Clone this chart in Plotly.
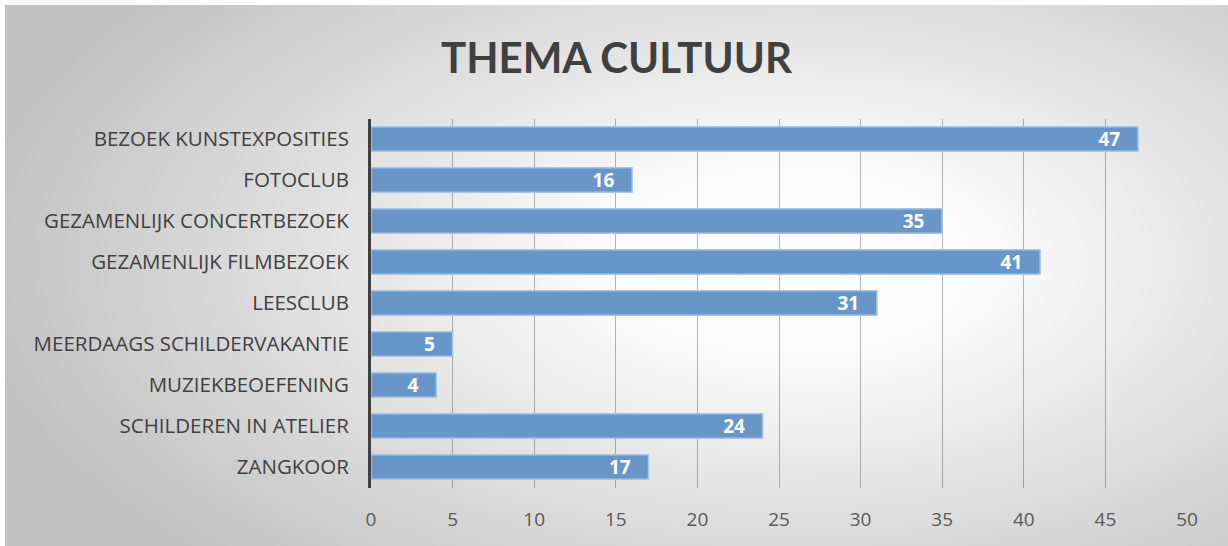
import numpy as np
import plotly.graph_objects as go

categories = [
    "BEZOEK KUNSTEXPOSITIES",
    "FOTOCLUB",
    "GEZAMENLIJK CONCERTBEZOEK",
    "GEZAMENLIJK FILMBEZOEK",
    "LEESCLUB",
    "MEERDAAGS SCHILDERVAKANTIE",
    "MUZIEKBEOEFENING",
    "SCHILDEREN IN ATELIER",
    "ZANGKOOR",
]
values = [47, 16, 35, 41, 31, 5, 4, 24, 17]

W, H = 1228, 546

# radial gradient background (white centre, grey edges) drawn as a heatmap
gx = np.linspace(10, W, 124)
gy = np.linspace(10, H, 55)
GX, GY = np.meshgrid(gx, gy)
dist = np.sqrt(((GX - 790) / 820) ** 2 + ((GY - 260) / 420) ** 2)
dist = np.clip(dist, 0, 1)

fig = go.Figure()
fig.add_trace(go.Heatmap(
    x=gx, y=gy, z=dist, zmin=0, zmax=1, zsmooth="best",
    colorscale=[[0, "#ffffff"], [0.25, "#fafafa"], [1, "#c2c2c2"]],
    showscale=False, hoverinfo="skip",
    xaxis="x", yaxis="y",
))
fig.add_trace(go.Bar(
    x=values, y=categories, orientation="h",
    xaxis="x2", yaxis="y2",
    width=0.6,
    marker=dict(color="#6896c9", line=dict(color="#a9c5e6", width=1.5)),
    texttemplate="%{x}&nbsp;&nbsp;&nbsp;", textposition="inside",
    insidetextanchor="end", textangle=0, constraintext="none",
    textfont=dict(color="white", size=19, family="Open Sans", weight="bold"),
    cliponaxis=False,
))

fig.update_layout(
    width=W, height=H,
    margin=dict(l=0, r=0, t=0, b=0, autoexpand=False),
    paper_bgcolor="white", plot_bgcolor="rgba(0,0,0,0)",
    showlegend=False,
    font=dict(family="Open Sans", color="#404040"),
    title=dict(text="<b>THEMA CULTUUR</b>", x=0.502, xanchor="center",
               y=1 - 58 / H, yanchor="middle",
               font=dict(size=42, color="#404040", family="Lato")),
    xaxis=dict(domain=[0, 1], range=[0, W], visible=False, fixedrange=True),
    yaxis=dict(domain=[0, 1], range=[H, 0], visible=False, fixedrange=True),
    xaxis2=dict(
        domain=[371 / W, 1187 / W], anchor="y2", range=[0, 50],
        tickvals=list(range(0, 51, 5)),
        showgrid=True, gridcolor="rgba(0,0,0,0.28)", gridwidth=1,
        zeroline=False, showline=False, ticks="",
        tickfont=dict(size=19, color="#595959"),
        ticklabelstandoff=18, automargin=False,
    ),
    yaxis2=dict(
        domain=[1 - 487.5 / H, 1 - 118.5 / H], anchor="x2",
        autorange="reversed", categoryorder="array", categoryarray=categories,
        showline=True, linecolor="#404040", linewidth=3,
        showgrid=False, ticks="",
        tickfont=dict(size=20.5, color="#404040"),
        ticklabelstandoff=15, automargin=False,
    ),
)

fig.write_html("out.html", config={"displayModeBar": False},
               post_script="document.body.style.margin='0';")
